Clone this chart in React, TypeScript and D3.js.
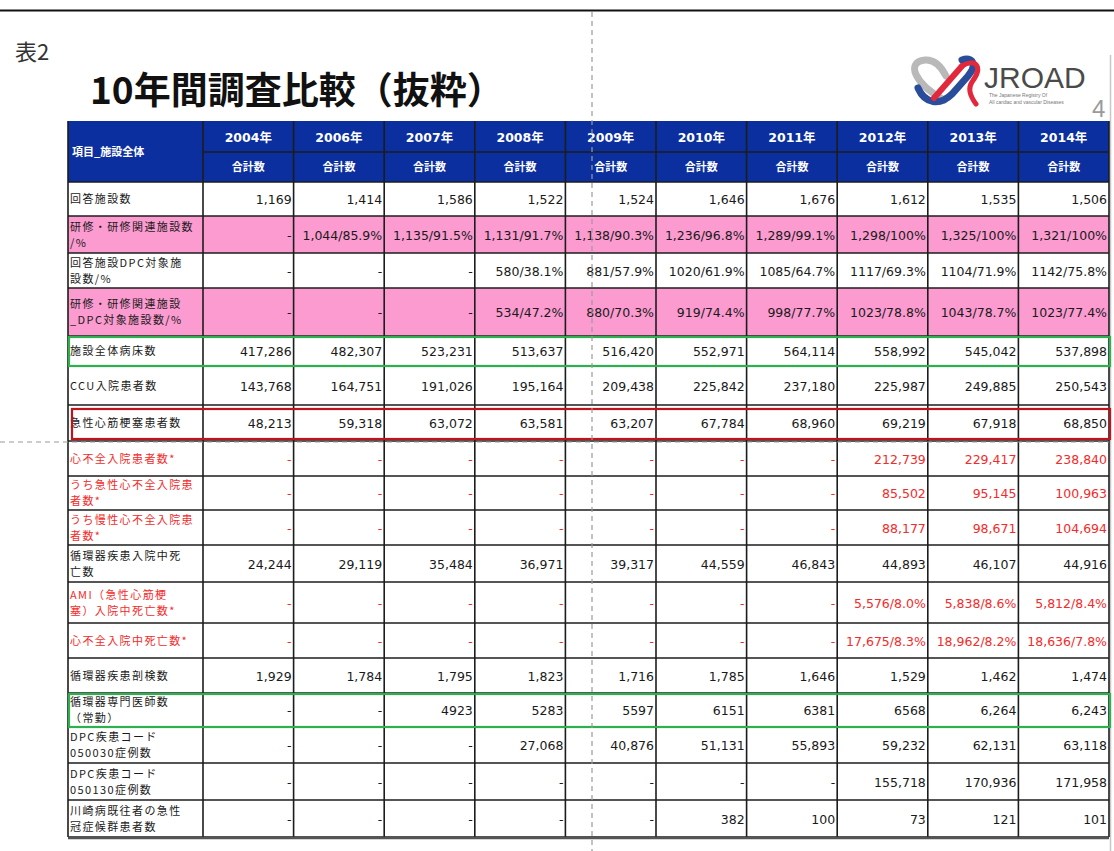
import React from 'react';
import * as d3 from 'd3';

// --- table content -------------------------------------------------------
const years = ['2004年', '2006年', '2007年', '2008年', '2009年', '2010年', '2011年', '2012年', '2013年', '2014年'];
const subHeader = '合計数';
const stubHeader = '項目_施設全体';

const rowLabels = [
  ['回答施設数'],
  ['研修・研修関連施設数', '/%'],
  ['回答施設DPC対象施', '設数/%'],
  ['研修・研修関連施設', '_DPC対象施設数/%'],
  ['施設全体病床数'],
  ['CCU入院患者数'],
  ['急性心筋梗塞患者数'],
  ['心不全入院患者数*'],
  ['うち急性心不全入院患', '者数*'],
  ['うち慢性心不全入院患', '者数*'],
  ['循環器疾患入院中死', '亡数'],
  ['AMI（急性心筋梗', '塞）入院中死亡数*'],
  ['心不全入院中死亡数*'],
  ['循環器疾患剖検数'],
  ['循環器専門医師数', '（常勤）'],
  ['DPC疾患コード', '050030症例数'],
  ['DPC疾患コード', '050130症例数'],
  ['川崎病既往者の急性', '冠症候群患者数'],
];

const responding = ['1,169', '1,414', '1,586', '1,522', '1,524', '1,646', '1,676', '1,612', '1,535', '1,506'];
const trainingFacilities = ['-', '1,044/85.9%', '1,135/91.5%', '1,131/91.7%', '1,138/90.3%', '1,236/96.8%', '1,289/99.1%', '1,298/100%', '1,325/100%', '1,321/100%'];
const dpcFacilities = ['-', '-', '-', '580/38.1%', '881/57.9%', '1020/61.9%', '1085/64.7%', '1117/69.3%', '1104/71.9%', '1142/75.8%'];
const trainingDpc = ['-', '-', '-', '534/47.2%', '880/70.3%', '919/74.4%', '998/77.7%', '1023/78.8%', '1043/78.7%', '1023/77.4%'];
const totalBeds = ['417,286', '482,307', '523,231', '513,637', '516,420', '552,971', '564,114', '558,992', '545,042', '537,898'];
const ccuAdmissions = ['143,768', '164,751', '191,026', '195,164', '209,438', '225,842', '237,180', '225,987', '249,885', '250,543'];
const amiPatients = ['48,213', '59,318', '63,072', '63,581', '63,207', '67,784', '68,960', '69,219', '67,918', '68,850'];
const hfAdmissions = ['-', '-', '-', '-', '-', '-', '-', '212,739', '229,417', '238,840'];
const acuteHf = ['-', '-', '-', '-', '-', '-', '-', '85,502', '95,145', '100,963'];
const chronicHf = ['-', '-', '-', '-', '-', '-', '-', '88,177', '98,671', '104,694'];
const cvDeaths = ['24,244', '29,119', '35,484', '36,971', '39,317', '44,559', '46,843', '44,893', '46,107', '44,916'];
const amiDeaths = ['-', '-', '-', '-', '-', '-', '-', '5,576/8.0%', '5,838/8.6%', '5,812/8.4%'];
const hfDeaths = ['-', '-', '-', '-', '-', '-', '-', '17,675/8.3%', '18,962/8.2%', '18,636/7.8%'];
const autopsies = ['1,929', '1,784', '1,795', '1,823', '1,716', '1,785', '1,646', '1,529', '1,462', '1,474'];
const cardiologists = ['-', '-', '4923', '5283', '5597', '6151', '6381', '6568', '6,264', '6,243'];
const dpc050030 = ['-', '-', '-', '27,068', '40,876', '51,131', '55,893', '59,232', '62,131', '63,118'];
const dpc050130 = ['-', '-', '-', '-', '-', '-', '-', '155,718', '170,936', '171,958'];
const kawasakiAcs = ['-', '-', '-', '-', '-', '382', '100', '73', '121', '101'];

const rowValues = [
  responding, trainingFacilities, dpcFacilities, trainingDpc, totalBeds, ccuAdmissions,
  amiPatients, hfAdmissions, acuteHf, chronicHf, cvDeaths, amiDeaths, hfDeaths,
  autopsies, cardiologists, dpc050030, dpc050130, kawasakiAcs,
];

// --- layout / style ------------------------------------------------------
const W = 1114;
const H = 851;
const tableLeft = 68;
const stubRight = 203;
const tableRight = 1109;
const headTop = 121;
const headMid = 152;
const bodyTop = 182;
const rowHeights = [34, 37, 35, 48, 30, 39, 36, 35, 34, 35, 37, 41, 35, 35, 34, 36, 37, 37];

const pinkRows = new Set([1, 3]);
const redTextRows = new Set([7, 8, 9, 11, 12]);
const greenBoxRows = [4, 14];
const redBoxRows = [6];

const BLUE = '#0b2f9e';
const PINK = '#fb9bd0';
const RED_TEXT = '#f52a2a';
const GRID = '#1c1c1c';
const JP = "'Noto Sans CJK JP', sans-serif";
const NUM = "'DejaVu Sans', 'Noto Sans CJK JP', sans-serif";

export default function App() {
  const x = d3.scaleBand<string>().domain(years).range([stubRight, tableRight]);
  const bounds = [bodyTop, ...Array.from(d3.cumsum(rowHeights), (d) => bodyTop + d)];
  const bodyBottom = bounds[bounds.length - 1];
  const rowTop = (i: number) => bounds[i];
  const rowH = (i: number) => bounds[i + 1] - bounds[i];

  return (
    <svg width={W} height={H} viewBox={`0 0 ${W} ${H}`}
      style={{ position: 'absolute', left: 0, top: 0, background: '#fff', display: 'block' }}>
      <rect width={W} height={H} fill="#fff" />
      {/* slide frame */}
      <line x1={0} x2={W} y1={10.5} y2={10.5} stroke="#111" strokeWidth={2} />
      <line x1={1110.5} x2={1110.5} y1={55} y2={H} stroke="#c8c8c8" strokeWidth={1.5} />

      <text x={15} y={60} fontFamily={JP} fontSize={22} fill="#333">表2</text>
      <text x={90} y={104} fontFamily={JP} fontSize={37} fontWeight={700} fill="#111">10年間調査比較（抜粋）</text>

      {/* logo */}
      <g fill="none" strokeLinecap="round">
        <path d="M944 100 C 915 84, 905 62, 925 60 C 936 59, 942 68, 946 76" stroke="#b9b9b9" strokeWidth={7} />
        <path d="M918 88 C 925 104, 940 106, 952 94 L 968 76 C 978 64, 972 56, 962 60" stroke="#2a4d9b" strokeWidth={7} />
        <path d="M934 98 L 962 66" stroke="#e2283c" strokeWidth={6} />
        <path d="M962 66 C 975 58, 984 66, 972 82 C 968 88, 970 96, 976 104" stroke="#e2283c" strokeWidth={5} />
      </g>
      <text x={984} y={88} fontFamily="'Liberation Sans', Arial, sans-serif" fontSize={30} fill="#4a4a4a">JROAD</text>
      <text x={989} y={97} fontFamily="'Liberation Sans', Arial, sans-serif" fontSize={5} fill="#777">The Japanese Registry Of</text>
      <text x={989} y={104} fontFamily="'Liberation Sans', Arial, sans-serif" fontSize={5} fill="#777">All cardiac and vascular Diseases</text>
      <text x={1092} y={117} fontFamily="'Liberation Sans', Arial, sans-serif" fontSize={24} fill="#9a9a9a">4</text>

      {/* header */}
      <rect x={tableLeft} y={headTop} width={tableRight - tableLeft} height={bodyTop - headTop} fill={BLUE} />
      <text x={72} y={(headTop + bodyTop) / 2 + 4} fontFamily={JP} fontSize={11} fontWeight={700} fill="#fff">{stubHeader}</text>
      {years.map((yr) => (
        <g key={yr}>
          <text x={x(yr)! + x.bandwidth() / 2} y={(headTop + headMid) / 2 + 5} textAnchor="middle"
            fontFamily={NUM} fontSize={12.5} fontWeight={700} fill="#fff">{yr}</text>
          <text x={x(yr)! + x.bandwidth() / 2} y={(headMid + bodyTop) / 2 + 4} textAnchor="middle"
            fontFamily={JP} fontSize={11} fontWeight={700} fill="#fff">{subHeader}</text>
        </g>
      ))}

      {/* body fills */}
      {rowLabels.map((_, i) => pinkRows.has(i) ? (
        <rect key={`p${i}`} x={tableLeft} y={rowTop(i)} width={tableRight - tableLeft} height={rowH(i)} fill={PINK} />
      ) : null)}

      {/* grid */}
      <g stroke={GRID} strokeWidth={1.6}>
        <line x1={stubRight} x2={tableRight} y1={headMid} y2={headMid} />
        {bounds.map((b, i) => (
          <line key={`h${i}`} x1={tableLeft} x2={tableRight} y1={b} y2={b} />
        ))}
        <line x1={tableLeft} x2={tableLeft} y1={headTop} y2={bodyBottom} />
        {years.map((yr) => (
          <line key={`v${yr}`} x1={x(yr)!} x2={x(yr)!} y1={headTop} y2={bodyBottom} />
        ))}
        <line x1={tableRight} x2={tableRight} y1={headTop} y2={bodyBottom} />
      </g>
      <line x1={tableLeft} x2={tableRight} y1={bodyBottom + 1} y2={bodyBottom + 1} stroke="#555" strokeWidth={2.5} />

      {/* body text */}
      {rowLabels.map((lines, i) => {
        const color = redTextRows.has(i) ? RED_TEXT : '#1a1a1a';
        const cy = rowTop(i) + rowH(i) / 2;
        const lh = 16;
        const first = cy - ((lines.length - 1) * lh) / 2 + 4;
        return (
          <g key={`r${i}`} fill={color}>
            <text y={first} fontFamily={JP} fontSize={11} letterSpacing={1.4}>
              {lines.map((ln, k) => (
                <tspan key={k} x={tableLeft + 2} dy={k === 0 ? 0 : lh}>{ln}</tspan>
              ))}
            </text>
            {rowValues[i].map((v, j) => (
              <text key={`c${j}`} x={x(years[j])! + x.bandwidth() - 2} y={cy + 5} textAnchor="end"
                fontFamily={NUM} fontSize={12.5}>{v}</text>
            ))}
          </g>
        );
      })}

      {/* highlight boxes */}
      {greenBoxRows.map((i) => (
        <rect key={`g${i}`} x={tableLeft + 1} y={rowTop(i) + 1} width={tableRight - tableLeft} height={rowH(i) - 1}
          fill="none" stroke="#2fb04e" strokeWidth={2.2} />
      ))}
      {redBoxRows.map((i) => (
        <rect key={`rb${i}`} x={tableLeft + 4} y={rowTop(i) + 4} width={tableRight - tableLeft - 3} height={rowH(i) - 6}
          fill="none" stroke="#c0141c" strokeWidth={2.2} />
      ))}

      {/* guide lines */}
      <g stroke="#9a9a9a" strokeWidth={1.2} strokeDasharray="5 4">
        <line x1={592} x2={592} y1={12} y2={H} />
        <line x1={0} x2={tableRight} y1={442} y2={442} />
      </g>
    </svg>
  );
}
